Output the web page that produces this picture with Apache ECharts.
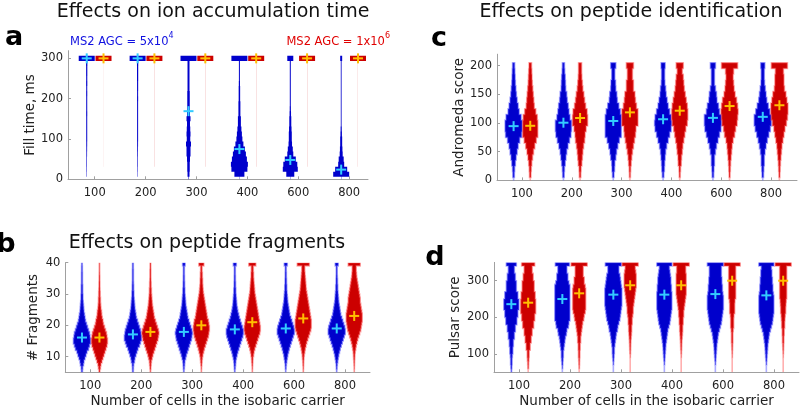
<!DOCTYPE html>
<html><head><meta charset="utf-8">
<script src="https://cdn.jsdelivr.net/npm/echarts@6.0.0/dist/echarts.min.js"></script>
<style>html,body{margin:0;padding:0;background:#fff}#c{width:800px;height:409px}</style>
</head><body><div id="c"></div>
<script>
const categories = ['100','200','300','400','600','800'];

// ---- Panel a: fill time (ms), bins of 12.5 ms centred on 0..300
const fillBlue = [
  [0,0.4,0.5,0.6,0.6,0.7,0.8,0.9,1,1,1,1,1,1.1,1,1,1,1.1,1,1.2,1.1,1.2,1.2,1.3,16],
  [0,0.4,0.5,0.6,0.6,0.7,0.8,0.9,1,1,1,1,1,1,1,1,1.1,1,1.1,1.1,1.2,1.2,1.2,1.3,16],
  [0.5,2,2.5,2.5,3,4,4,5,3.5,4,3.5,3,4,3,2.5,2.5,2.5,2.5,2,2,2,2,2,2,16],
  [0.3,10,16,17,15,13,11,8,6,5,4,3,3,2,2,2,1.5,1.5,1.5,1.2,1,1,1,1,16],
  [0.3,8,15,14,11,6,5,3.5,3,3,2.5,2,2,1.5,1.2,1,1,1,1,1,1,1,1,1,6],
  [0.3,16,12,6,5,3,2.5,2,2,1.5,1.2,0.8,0.8,0.8,0.8,0.8,0.8,0.8,0.8,0.8,0.8,0.8,0.8,0.8,2]
];
const fillRed = [
  [0,0,0,0.05,0.05,0.05,0.05,0.05,0.05,0.05,0.05,0.05,0.05,0.05,0.05,0.05,0.05,0.05,0.05,0.05,0.05,0.05,0.05,0.05,16],
  [0,0,0,0.12,0.12,0.12,0.12,0.12,0.12,0.12,0.12,0.12,0.12,0.12,0.12,0.12,0.12,0.12,0.12,0.12,0.12,0.12,0.12,0.12,16],
  [0,0,0,0.12,0.12,0.12,0.12,0.12,0.12,0.12,0.12,0.12,0.12,0.12,0.12,0.12,0.12,0.12,0.12,0.12,0.12,0.12,0.12,0.12,16],
  [0,0,0,0.12,0.12,0.12,0.12,0.12,0.12,0.12,0.12,0.12,0.12,0.12,0.12,0.12,0.12,0.12,0.12,0.12,0.12,0.12,0.12,0.12,16],
  [0,0,0,0.12,0.12,0.12,0.12,0.12,0.12,0.12,0.12,0.12,0.12,0.12,0.12,0.12,0.12,0.12,0.12,0.12,0.12,0.12,0.12,0.12,16],
  [0,0,0,0.12,0.12,0.12,0.12,0.12,0.12,0.12,0.12,0.12,0.12,0.12,0.12,0.12,0.12,0.12,0.12,0.12,0.12,0.12,0.12,0.12,16]
];
const fillMeanBlue = [300, 300, 169, 75, 48, 24];
const fillMeanRed = [300, 300, 300, 300, 300, 300];

// ---- Panel c: Andromeda score, bins of 10 centred on 0..200
const andBlue = [
  [0,1.5,2,3.5,5,7,9,12,16,17,17,15,11,9,7,5.5,4.5,3.5,3,2.5,2],
  [0,1.5,2,3.5,5,6.5,9,12,15,16,16,13,11,9.5,7.5,6.5,4.5,4,3.5,2.5,2],
  [0,1.5,2.5,3,5,6.5,9,12,16,16,16,16,14,11,8,7,5,4.5,3,3,5],
  [0,1.5,2.5,3,4,5,7,10,13,16,17,16,13,10,8,6,5,3.5,3,3,4],
  [0,1.5,2,3,3,5,7,10,13,16,17,17,13,11,8,7,5,3,3,3,5],
  [0,1.5,2,3,3,4.5,6.5,9,12,15,17,17,14,11,8,6.5,5,3.5,3,3,4]
];
const andRed = [
  [0,1.5,2,3,4.5,6.5,9,12,15,15,15,14,11,8,7,6,5,4,3.5,3,2.5],
  [0,1.5,2,3.5,4.5,5.5,7,9,10,12,15,15,14,11,9,7.5,5.5,4.5,3.5,3,3],
  [0,1,1.5,2.5,3.5,5,7,9,11,12,16,16,16,13,11,10,7,7,5,5,7],
  [0,1,1.5,3,3.5,5,6,8,10,12,15,16,16,15,13,11,9,8,7,5,7],
  [0,1,1.5,2,3,4,5,7,10,12,15,16,17,16,14,11,9,8,7,8,16],
  [0,1,1.5,2,3,4,5,7,9,11,14,16,17,17,15,13,10,9,9,8,16]
];
const andMeanBlue = [94.6, 100.6, 103.6, 106.6, 109, 110.8];
const andMeanRed = [95.2, 108.8, 118.6, 121.5, 129.6, 131];

// ---- Panel b: # fragments, bins of 1 from 5 to 40
const fragBlue = [
  [1,1.5,3,4,6,8,10,13,15,17,17,16,15,13,11,9,7,6,5,4,3.5,3,2.5,2,2,1.5,1.5,1.5,1,1,1,1,0.8,0.8,0.6],
  [0.8,1,1.5,3,4,6,8,10,13,15,17,17,16,15,13,11,9,7,6,5,4,3.5,3,2.5,2,2,1.5,1.5,1.2,1,1,1,1,0.8,0.8],
  [0.5,1,1.5,2,3.5,5,7,9,11,13,15,16,17,16,14,12,10,8,7,6,5,4,3.5,3,2.5,2,2,1.5,1.5,1.2,1.2,1,1,1,2.5],
  [0.5,1,1.5,2,3,4.5,6,8,10,12,14,16,17,17,15,13,11,9,7.5,6,5,4,3.5,3,2.5,2,2,1.5,1.5,1.2,1.2,1,1,1,3],
  [0.3,0.8,1.2,2,3,4,5.5,7,9,11,13,15,17,17,16,14,12,10,8,7,6,5,4,3.5,3,2.5,2,2,1.5,1.5,1.2,1.2,1,1,3],
  [0.3,0.8,1.2,2,3,4,5.5,7,9,11,13,15,17,17,16,14,12,10,8,7,6,5,4,3.5,3,2.5,2,2,1.5,1.5,1.2,1,1,1,3]
];
const fragRed = [
  [1,2,3,5,7,9,11,13,15,16,16,15,14,12,10,8,7,5.5,4.5,4,3,2.5,2,2,1.5,1.5,1.2,1,1,0.8,0.8,0.6,0.5,0.5,0.5],
  [0.5,1,1.5,2,3.5,5,7,9,11,13,15,16,17,16,14,12,10,8,7,6,5,4,3.5,3,2.5,2,2,1.5,1.5,1.2,1,1,1,0.8,0.8],
  [0.3,0.5,1,1.5,2,3,4.5,6,8,10,12,14,15,16,16,15,14,12,11,10,9,8,7,6,5,4,3.5,3,2.5,2.5,2,2,1.5,1.5,5],
  [0.3,0.5,0.8,1.2,1.5,2.5,3.5,5,7,9,11,13,15,16,16,15,14,13,12,11,10,9,8,7,6,5,4.5,4,3.5,3,2.5,2.5,2,2,7],
  [0.3,0.5,0.8,1,1.5,2,3,4,5.5,7,9,11,13,15,16,16,16,15,14,13,12,11,10,9,8,7,6,5.5,5,4.5,4,3.5,3,3,12],
  [0.2,0.4,0.6,0.8,1.2,1.5,2,3,4,5.5,7,9,11,13,14,15,16,16,16,15,14,13,12,12,11,10,9,8,7,6,5,4.5,4,4,12]
];
const fragMeanBlue = [16.1, 17.1, 17.9, 18.7, 19.0, 19.0];
const fragMeanRed = [16.1, 17.9, 20.0, 21.0, 22.2, 23.0];

// ---- Panel d: Pulsar score, bins of 10 from 50 to 350
const pulBlue = [
  [0.5,1,1.5,1.5,2,3,3,4,4,6,6,8,8,11,11,13,13,15,15,15,13,13,10,10,10,8,8,6,6,10],
  [0,0.5,1,1.5,2,2,3,4,5,6,8,9,12,13,15,15,15,15,15,15,15,15,15,15,13,11,11,9,9,14],
  [0,0,0.5,1,1.5,2,2,3,4,5,6,8,9,11,13,14,15,16,17,17,17,17,17,16,15,14,13,11,11,16],
  [0,0,0.5,1,1.5,2,2.5,3,4,5,6,7,9,11,12,13,14,15,15,15,15,15,14,14,13,13,12,11,10,15],
  [0,0,0.5,1,1.5,2,2.5,3,4,5,6,8,10,12,13,14,15,16,16,16,16,15,14,14,13,13,12,12,12,16],
  [0,0,0.5,1,1.5,2,2.5,3,4,5,6,8,10,12,13,14,15,15,15,15,15,14,13,13,12,12,11,11,10,15]
];
const pulRed = [
  [0,0.8,1,1.5,2,2,4,4,6,6,8,8,11,11,13,13,15,15,15,15,14,14,12,12,12,10,10,8,8,13],
  [0,0.5,0.8,1,1.5,1.5,2,2,3,3,4,5,6,7,9,10,12,13,13,13,13,13,13,12,10,10,8,8,8,16],
  [0,0,0,0,0.3,0.7,1,1.2,1.5,2,2.5,3,3,4,4,5,6,6,7,8,9,10,11,12,12,12,12,11,10,16],
  [0,0,0,0,0.3,0.6,1,1.2,1.5,2,2.5,3,3,4,4,5,5,6,7,8,9,10,10,10,10,10,10,9,9,16],
  [0,0,0,0,0.3,0.5,0.8,1,1.5,1.5,1.5,2,3,3,3,3.5,5,5,5,5.5,7,7,7,7,7,7,7,7,7,16],
  [0,0,0,0,0.2,0.5,0.8,1,1.5,1.5,2,2,3,3,3.5,4,5,5,5.5,6,7,7,7,7,7,7,7,7,7,16]
];
const pulMeanBlue = [236, 250, 262, 262, 263.5, 260];
const pulMeanRed = [240, 265.6, 287.5, 287.5, 300, 300];

// ---------------- styling / layout ----------------
const FONT = 'DejaVu Sans';
const BLUE = '#0000cc', RED = '#cc0000', CYAN = '#33ccff', GOLD = '#ffbf00';
const HALO_BLUE = 'rgba(70,70,255,0.45)', HALO_RED = 'rgba(255,80,80,0.45)';
const AX = '#a0a0a0', TXT = '#222222';

const panels = [
  {grid:{left:68, top:50.7, width:300, height:128.6}, x:[0.475,6.37], y:[0,319], yTicks:[0,100,200,300], yName:'Fill time, ms', yGap:31, off:[-0.157,0.173]},
  {grid:{left:497, top:54.2, width:300, height:126.2}, x:[0.5,6.52], y:[0,220], yTicks:[0,50,100,150,200], yName:'Andromeda score', yGap:28, off:[-0.167,0.167]},
  {grid:{left:65.3, top:262.7, width:304.7, height:109.6}, x:[0.51,6.49], y:[5,40], yTicks:[10,20,30,40], yName:'# Fragments', yGap:25, off:[-0.163,0.18], xName:true},
  {grid:{left:494, top:262.4, width:305, height:109.9}, x:[0.51,6.49], y:[50,350], yTicks:[100,200,300], yName:'Pulsar score', yGap:32, off:[-0.15,0.18], xName:true}
];

function violinSeries(gi, binStart, binStep, widths, offset, color, halo) {
  const p = panels[gi];
  const unitPx = p.grid.width / (p.x[1] - p.x[0]);
  return {
    type:'custom', xAxisIndex:gi, yAxisIndex:gi, clip:true, silent:true, z:2,
    data: widths.map((w, g) => [g + 1 + offset, binStart, g]),
    encode:{x:0, y:1},
    renderItem(params, api) {
      const g = api.value(2), x = api.value(0);
      const arr = widths[g];
      const R = [], L = [];
      for (let k = 0; k < arr.length; k++) {
        const lo = binStart + k * binStep, hi = lo + binStep;
        const hw = arr[k] / 2 / unitPx;
        R.push(api.coord([x + hw, lo]), api.coord([x + hw, hi]));
        L.push(api.coord([x - hw, lo]), api.coord([x - hw, hi]));
      }
      const style = {fill:color};
      if (halo) { style.stroke = halo; style.lineWidth = 1.6; style.lineJoin = 'miter'; }
      return {type:'polygon', shape:{points:R.concat(L.reverse())}, style};
    }
  };
}
function meanSeries(gi, means, offset, color) {
  return {
    type:'custom', xAxisIndex:gi, yAxisIndex:gi, silent:true, z:5,
    data: means.map((m, g) => [g + 1 + offset, m]),
    encode:{x:0, y:1},
    renderItem(params, api) {
      const c = api.coord([api.value(0), api.value(1)]), s = 5;
      return {type:'group', children:[
        {type:'line', shape:{x1:c[0]-s, y1:c[1], x2:c[0]+s, y2:c[1]}, style:{stroke:color, lineWidth:2}},
        {type:'line', shape:{x1:c[0], y1:c[1]-s, x2:c[0], y2:c[1]+s}, style:{stroke:color, lineWidth:2}}
      ]};
    }
  };
}

const catTicks = [1,2,3,4,5,6];
const option = {
  animation:false,
  backgroundColor:'#ffffff',
  grid: panels.map(p => Object.assign({outerBoundsMode:'none', containLabel:false}, p.grid)),
  xAxis: panels.map((p, i) => ({
    type:'value', gridIndex:i, min:p.x[0], max:p.x[1],
    axisLine:{show:true, lineStyle:{color:AX, width:1}},
    axisTick:{show:true, inside:true, length:3, customValues:catTicks, lineStyle:{color:AX}},
    axisLabel:{customValues:catTicks, color:TXT, fontSize:11.5, fontFamily:FONT, margin:8,
      formatter: v => (Number.isInteger(v) && categories[v-1]) ? categories[v-1] : ''},
    splitLine:{show:false},
    name: p.xName ? 'Number of cells in the isobaric carrier' : '',
    nameLocation:'middle', nameGap:22,
    nameTextStyle:{fontSize:13.5, fontFamily:FONT, color:TXT}
  })),
  yAxis: panels.map((p, i) => ({
    type:'value', gridIndex:i, min:p.y[0], max:p.y[1],
    axisLine:{show:true, lineStyle:{color:AX, width:1}},
    axisTick:{show:true, inside:true, length:3, customValues:p.yTicks, lineStyle:{color:AX}},
    axisLabel:{customValues:p.yTicks, color:TXT, fontSize:11.5, fontFamily:FONT, margin:5},
    splitLine:{show:false},
    name:p.yName, nameLocation:'middle', nameGap:p.yGap,
    nameTextStyle:{fontSize:13.5, fontFamily:FONT, color:TXT}
  })),
  series: [
    violinSeries(0, -6.25, 12.5, fillBlue, panels[0].off[0], BLUE, null),
    violinSeries(0, -6.25, 12.5, fillRed, panels[0].off[1], RED, null),
    meanSeries(0, fillMeanBlue, panels[0].off[0], CYAN),
    meanSeries(0, fillMeanRed, panels[0].off[1], GOLD),
    violinSeries(1, -5, 10, andBlue, panels[1].off[0], BLUE, HALO_BLUE),
    violinSeries(1, -5, 10, andRed, panels[1].off[1], RED, HALO_RED),
    meanSeries(1, andMeanBlue, panels[1].off[0], CYAN),
    meanSeries(1, andMeanRed, panels[1].off[1], GOLD),
    violinSeries(2, 5, 1, fragBlue, panels[2].off[0], BLUE, HALO_BLUE),
    violinSeries(2, 5, 1, fragRed, panels[2].off[1], RED, HALO_RED),
    meanSeries(2, fragMeanBlue, panels[2].off[0], CYAN),
    meanSeries(2, fragMeanRed, panels[2].off[1], GOLD),
    violinSeries(3, 50, 10, pulBlue, panels[3].off[0], BLUE, HALO_BLUE),
    violinSeries(3, 50, 10, pulRed, panels[3].off[1], RED, HALO_RED),
    meanSeries(3, pulMeanBlue, panels[3].off[0], CYAN),
    meanSeries(3, pulMeanRed, panels[3].off[1], GOLD)
  ],
  graphic: [
    {type:'text', x:213, y:12, style:{text:'Effects on ion accumulation time', font:'19px "DejaVu Sans"', fill:'#111', align:'center', verticalAlign:'middle'}},
    {type:'text', x:631, y:12, style:{text:'Effects on peptide identification', font:'19px "DejaVu Sans"', fill:'#111', align:'center', verticalAlign:'middle'}},
    {type:'text', x:207, y:243, style:{text:'Effects on peptide fragments', font:'19px "DejaVu Sans"', fill:'#111', align:'center', verticalAlign:'middle'}},
    {type:'text', x:14, y:38, style:{text:'a', font:'bold 27px "DejaVu Sans"', fill:'#000', align:'center', verticalAlign:'middle'}},
    {type:'text', x:439, y:39, style:{text:'c', font:'bold 27px "DejaVu Sans"', fill:'#000', align:'center', verticalAlign:'middle'}},
    {type:'text', x:6, y:245, style:{text:'b', font:'bold 27px "DejaVu Sans"', fill:'#000', align:'center', verticalAlign:'middle'}},
    {type:'text', x:435, y:258, style:{text:'d', font:'bold 27px "DejaVu Sans"', fill:'#000', align:'center', verticalAlign:'middle'}},
    {type:'text', x:70, y:40, style:{text:'{n|MS2 AGC = 5x10}{s|4}', align:'left', verticalAlign:'middle',
      rich:{n:{fontSize:11.5, fontFamily:FONT, fill:'#1010e0', lineHeight:16, verticalAlign:'bottom'},
            s:{fontSize:8, fontFamily:FONT, fill:'#1010e0', lineHeight:9, verticalAlign:'top'}}}},
    {type:'text', x:390, y:40, style:{text:'{n|MS2 AGC = 1x10}{s|6}', align:'right', verticalAlign:'middle',
      rich:{n:{fontSize:11.5, fontFamily:FONT, fill:'#e00000', lineHeight:16, verticalAlign:'bottom'},
            s:{fontSize:8, fontFamily:FONT, fill:'#e00000', lineHeight:9, verticalAlign:'top'}}}}
  ]
};
const chart = echarts.init(document.getElementById('c'), null, {renderer:'canvas'});
chart.setOption(option);
</script></body></html>
